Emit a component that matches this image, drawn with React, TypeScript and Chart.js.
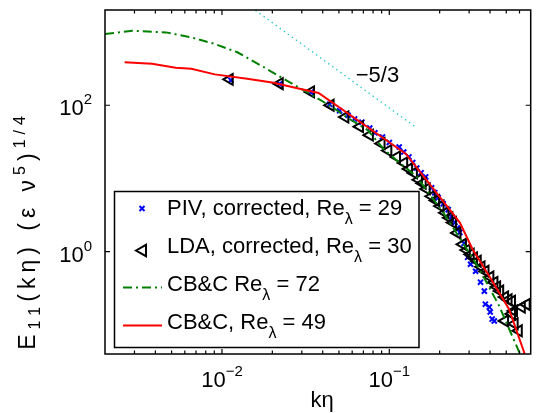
import React, { useEffect, useRef } from 'react';
import { Chart, registerables } from 'chart.js';
Chart.register(...registerables);

// axis limits
const X_MIN = 0.002;
const X_MAX = 0.7;
const Y_MIN = 0.04;
const Y_MAX = 2000;

// tick values and exponent labels
const xMajorTicks = [0.01, 0.1];
const xMajorExps = ['\u22122', '\u22121'];
const yMajorTicks = [1, 100];
const yMajorExps = ['0', '2'];

// PIV, corrected, Re_lambda = 29
const pivK = [0.0113, 0.0221, 0.034, 0.044, 0.0505, 0.0567, 0.062, 0.0686, 0.0764, 0.082, 0.091, 0.1, 0.1146, 0.122, 0.131, 0.138, 0.146, 0.155, 0.165, 0.179, 0.187, 0.196, 0.21, 0.225, 0.236, 0.247, 0.255, 0.264, 0.28, 0.294, 0.306, 0.328, 0.351, 0.37, 0.375, 0.396, 0.401, 0.412, 0.424];
const pivE = [220, 195, 150, 103, 84, 73, 65, 58.8, 48.7, 42, 36.8, 31, 26.9, 23, 19.7, 16.5, 13.9, 12, 10.5, 7.46, 6.4, 5.46, 4.5, 3.75, 3.0, 2.5, 2.1, 1.83, 1.3, 0.837, 0.673, 0.54, 0.383, 0.289, 0.192, 0.175, 0.15, 0.12, 0.113];

// LDA, corrected, Re_lambda = 30
const ldaK = [0.0111, 0.0221, 0.034, 0.0445, 0.0545, 0.0667, 0.0764, 0.0897, 0.0985, 0.111, 0.1225, 0.131, 0.14, 0.15, 0.158, 0.167, 0.179, 0.19, 0.202, 0.216, 0.228, 0.24, 0.255, 0.275, 0.29, 0.306, 0.32, 0.337, 0.355, 0.375, 0.401, 0.424, 0.44, 0.459, 0.491, 0.515, 0.54, 0.555, 0.54, 0.618, 0.661, 0.491, 0.56, 0.593];
const ldaE = [226, 197, 152, 100, 69, 51, 39, 30, 24, 19.7, 16.3, 13.5, 11.9, 9.6, 8.6, 7.2, 5.7, 5.0, 4.2, 3.4, 2.9, 2.5, 1.8, 1.26, 1.05, 0.92, 0.82, 0.74, 0.62, 0.54, 0.45, 0.38, 0.33, 0.29, 0.24, 0.22, 0.21, 0.155, 0.141, 0.175, 0.19, 0.113, 0.103, 0.083];

// CB&C Re_lambda = 72
const cbc72K = [0.002, 0.00292, 0.00462, 0.00656, 0.00906, 0.01236, 0.0178, 0.0233, 0.0331, 0.0457, 0.0567, 0.0743, 0.0935, 0.146, 0.21, 0.251, 0.346, 0.454, 0.562, 0.62];
const cbc72E = [940, 1043, 989, 846, 688, 529, 331, 230, 146, 94, 66.6, 45.8, 24.5, 10.5, 3.42, 1.83, 0.575, 0.181, 0.0586, 0.035];

// CB&C, Re_lambda = 49
const cbc49K = [0.00262, 0.00382, 0.00529, 0.00656, 0.00906, 0.01415, 0.0204, 0.0278, 0.0378, 0.1258, 0.264, 0.315, 0.396, 0.519, 0.644];
const cbc49E = [387, 368, 325, 315, 264, 230, 203, 172, 147, 21.6, 2.5, 1.07, 0.462, 0.165, 0.0403];

// -5/3 reference slope
const slopeK = [0.015, 0.144];
const slopeE = [2170, 50];

const FONT = '"Liberation Sans", Arial, Helvetica, sans-serif';
const f = (px: number) => `${px}px ${FONT}`;

type Seg = { t: string; s: number; dy: number };

function segWidth(ctx: CanvasRenderingContext2D, g: Seg, sp: number) {
  ctx.font = f(g.s);
  if (!sp) return ctx.measureText(g.t).width;
  let w = 0;
  for (const ch of Array.from(g.t)) w += ctx.measureText(ch).width + sp;
  return w;
}

function drawRich(ctx: CanvasRenderingContext2D, segs: Seg[], x: number, y: number, align: string, sp = 0) {
  let w = 0;
  for (const g of segs) w += segWidth(ctx, g, sp);
  if (sp) w -= sp;
  let cx = align === 'center' ? x - w / 2 : align === 'right' ? x - w : x;
  ctx.textAlign = 'left';
  ctx.textBaseline = 'alphabetic';
  for (const g of segs) {
    ctx.font = f(g.s);
    if (!sp) {
      ctx.fillText(g.t, cx, y + g.dy);
      cx += ctx.measureText(g.t).width;
    } else {
      for (const ch of Array.from(g.t)) {
        ctx.fillText(ch, cx, y + g.dy);
        cx += ctx.measureText(ch).width + sp;
      }
    }
  }
}

const decorPlugin = {
  id: 'decor',
  afterDraw(chart: any) {
    const ctx: CanvasRenderingContext2D = chart.ctx;
    const { left, top, right, bottom } = chart.chartArea;
    const xs = chart.scales.x;
    const ys = chart.scales.y;
    ctx.save();
    ctx.strokeStyle = '#000';
    ctx.fillStyle = '#000';
    ctx.lineWidth = 1.2;
    ctx.setLineDash([]);

    // x ticks (inside, top and bottom)
    for (let k = -3; k <= 0; k++) {
      for (let m = 1; m <= 9; m++) {
        const v = m * Math.pow(10, k);
        if (v <= X_MIN * 1.0001 || v >= X_MAX) continue;
        const px = xs.getPixelForValue(v);
        const len = m === 1 ? 5 : 3.5;
        ctx.beginPath();
        ctx.moveTo(px, bottom);
        ctx.lineTo(px, bottom - len);
        ctx.moveTo(px, top);
        ctx.lineTo(px, top + len);
        ctx.stroke();
      }
    }
    // y ticks
    for (const v of yMajorTicks) {
      const py = ys.getPixelForValue(v);
      ctx.beginPath();
      ctx.moveTo(left, py);
      ctx.lineTo(left + 5, py);
      ctx.moveTo(right, py);
      ctx.lineTo(right - 5, py);
      ctx.stroke();
    }
    // box
    ctx.lineWidth = 1.5;
    ctx.strokeRect(left, top, right - left, bottom - top);

    // x tick labels
    xMajorTicks.forEach((v, i) => {
      const px = xs.getPixelForValue(v);
      drawRich(ctx, [{ t: '10', s: 22, dy: 0 }, { t: xMajorExps[i], s: 15, dy: -11 }], px, 387, 'center');
    });
    // y tick labels
    yMajorTicks.forEach((v, i) => {
      const py = ys.getPixelForValue(v);
      drawRich(ctx, [{ t: '10', s: 22, dy: 0 }, { t: yMajorExps[i], s: 15, dy: -11 }], 92, py + 10, 'right');
    });

    // x title
    drawRich(ctx, [{ t: 'k\u03B7', s: 22, dy: 0 }], 322, 407, 'center');

    // y title
    ctx.save();
    ctx.translate(35, 233);
    ctx.rotate(-Math.PI / 2);
    drawRich(ctx, [
      { t: 'E', s: 23, dy: 0 },
      { t: '11', s: 16, dy: 5 },
      { t: '(k\u03B7) (\u03B5 \u03BD', s: 23, dy: 0 },
      { t: '5', s: 16, dy: -10 },
      { t: ')', s: 23, dy: 0 },
      { t: '1/4', s: 16, dy: -10 },
    ], 0, 0, 'center', 5);
    ctx.restore();

    // -5/3 annotation
    drawRich(ctx, [{ t: '\u22125/3', s: 22, dy: 0 }], xs.getPixelForValue(0.063), ys.getPixelForValue(205), 'left');

    // legend
    const lx0 = 114.5, ly0 = 191.5, lx1 = 419, ly1 = 347.5;
    ctx.fillStyle = '#fff';
    ctx.fillRect(lx0, ly0, lx1 - lx0, ly1 - ly0);
    ctx.strokeStyle = '#000';
    ctx.lineWidth = 1.5;
    ctx.strokeRect(lx0, ly0, lx1 - lx0, ly1 - ly0);
    ctx.fillStyle = '#000';
    const tx = 167;
    // entry 1: blue cross
    ctx.strokeStyle = '#0000ff';
    ctx.lineWidth = 2;
    ctx.beginPath();
    ctx.moveTo(139.5, 206); ctx.lineTo(144.5, 211);
    ctx.moveTo(144.5, 206); ctx.lineTo(139.5, 211);
    ctx.stroke();
    drawRich(ctx, [{ t: 'PIV, corrected, Re', s: 22, dy: 0 }, { t: '\u03BB', s: 16, dy: 9 }, { t: ' = 29', s: 22, dy: 0 }], tx, 215, 'left');
    // entry 2: triangle
    ctx.strokeStyle = '#000';
    ctx.beginPath();
    ctx.moveTo(136, 250.5);
    ctx.lineTo(146, 244.8);
    ctx.lineTo(146, 256.2);
    ctx.closePath();
    ctx.stroke();
    drawRich(ctx, [{ t: 'LDA, corrected, Re', s: 22, dy: 0 }, { t: '\u03BB', s: 16, dy: 9 }, { t: ' = 30', s: 22, dy: 0 }], tx, 253, 'left');
    // entry 3: green dash-dot
    ctx.strokeStyle = '#008000';
    ctx.lineWidth = 2;
    ctx.setLineDash([9, 4, 2, 4]);
    ctx.beginPath();
    ctx.moveTo(123, 287.5); ctx.lineTo(162, 287.5);
    ctx.stroke();
    ctx.setLineDash([]);
    drawRich(ctx, [{ t: 'CB&C Re', s: 22, dy: 0 }, { t: '\u03BB', s: 16, dy: 9 }, { t: ' = 72', s: 22, dy: 0 }], tx, 290.5, 'left');
    // entry 4: red line
    ctx.strokeStyle = '#ff0000';
    ctx.beginPath();
    ctx.moveTo(123, 325.5); ctx.lineTo(162, 325.5);
    ctx.stroke();
    drawRich(ctx, [{ t: 'CB&C, Re', s: 22, dy: 0 }, { t: '\u03BB', s: 16, dy: 9 }, { t: ' = 49', s: 22, dy: 0 }], tx, 328.5, 'left');

    ctx.restore();
  },
};

const toPts = (xs: number[], ys: number[]) => xs.map((x, i) => ({ x, y: ys[i] }));

export default function App() {
  const ref = useRef<HTMLCanvasElement>(null);
  useEffect(() => {
    if (!ref.current) return;
    const chart = new Chart(ref.current, {
      type: 'scatter',
      data: {
        datasets: [
          {
            label: 'PIV, corrected',
            data: toPts(pivK, pivE),
            showLine: false,
            pointStyle: 'crossRot',
            pointRadius: 3.6,
            pointBorderColor: '#0000ff',
            pointBorderWidth: 2,
            pointBackgroundColor: 'rgba(0,0,0,0)',
            borderColor: '#0000ff',
            order: 4,
            clip: 0,
          },
          {
            label: 'LDA, corrected',
            data: toPts(ldaK, ldaE),
            showLine: false,
            pointStyle: 'triangle',
            pointRotation: -90,
            pointRadius: 6.3,
            pointBorderColor: '#000',
            pointBorderWidth: 2,
            pointBackgroundColor: 'rgba(0,0,0,0)',
            borderColor: '#000',
            order: 3,
            clip: 0,
          },
          {
            label: 'CB&C 72',
            data: toPts(cbc72K, cbc72E),
            showLine: true,
            pointRadius: 0,
            borderColor: '#008000',
            borderWidth: 2,
            borderDash: [9, 4, 2, 4],
            tension: 0,
            order: 2,
            clip: 0,
          },
          {
            label: 'CB&C 49',
            data: toPts(cbc49K, cbc49E),
            showLine: true,
            pointRadius: 0,
            borderColor: '#ff0000',
            borderWidth: 2,
            tension: 0,
            order: 1,
            clip: 0,
          },
          {
            label: 'slope',
            data: toPts(slopeK, slopeE),
            showLine: true,
            pointRadius: 0,
            borderColor: 'rgb(40,200,200)',
            borderWidth: 1.3,
            borderDash: [1.5, 3.5],
            order: 5,
            clip: 0,
          },
        ],
      } as any,
      options: {
        animation: false,
        responsive: false,
        events: [],
        layout: { padding: { left: 105, top: 10, right: 1, bottom: 59 } },
        plugins: { legend: { display: false }, tooltip: { enabled: false } },
        scales: {
          x: { type: 'logarithmic', min: X_MIN, max: X_MAX, display: false },
          y: { type: 'logarithmic', min: Y_MIN, max: Y_MAX, display: false },
        },
      } as any,
      plugins: [decorPlugin],
    });
    return () => chart.destroy();
  }, []);
  return (
    <div style={{ position: 'absolute', left: 0, top: 0, width: 539, height: 413, background: '#fff' }}>
      <canvas ref={ref} width={539} height={413} style={{ display: 'block', width: 539, height: 413 }} />
    </div>
  );
}
